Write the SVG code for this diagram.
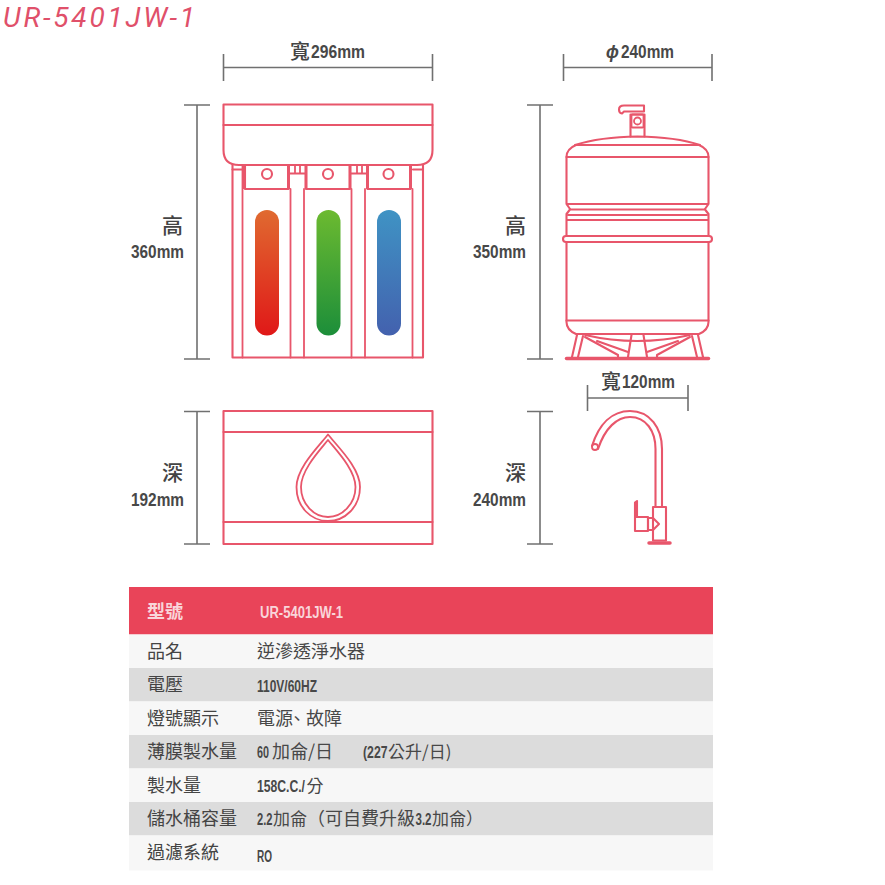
<svg xmlns="http://www.w3.org/2000/svg" width="885" height="885" viewBox="0 0 885 885">
<style>
.dim{stroke:#707070;stroke-width:1.6;fill:none}
.o{stroke:#e8566b;stroke-width:2.1;fill:none;stroke-linejoin:round;stroke-linecap:round}
.t{stroke:#e8566b;stroke-width:1.8;fill:none;stroke-linejoin:round;stroke-linecap:round}
.l{font-family:"Liberation Sans",sans-serif;font-weight:700;font-size:19px;fill:#484848}
.c{font-family:"Noto Sans CJK TC",sans-serif;font-weight:500;font-size:21px;fill:#444}
.n{font-family:"Liberation Sans",sans-serif;font-weight:700;font-size:16px;fill:#484848}
.k{font-family:"Noto Sans CJK TC",sans-serif;font-weight:400;font-size:18px;fill:#444}
.v{font-family:"Noto Sans CJK TC",sans-serif;font-size:18px;fill:#484848}
.s{font-size:17px}
.h{fill:#f9d5da;font-weight:700}
.b{font-family:"Liberation Sans",sans-serif;font-weight:700;font-size:16px}
.q{font-family:"Noto Sans CJK TC",sans-serif;font-weight:400}
</style>
<defs>
<linearGradient id="gr" x1="0" y1="0" x2="0" y2="1"><stop offset="0" stop-color="#e06a30"/><stop offset="1" stop-color="#e01818"/></linearGradient>
<linearGradient id="gg" x1="0" y1="0" x2="0" y2="1"><stop offset="0" stop-color="#6cba30"/><stop offset="1" stop-color="#1c8e3a"/></linearGradient>
<linearGradient id="gb" x1="0" y1="0" x2="0" y2="1"><stop offset="0" stop-color="#3f93c4"/><stop offset="1" stop-color="#4361ae"/></linearGradient>
</defs>
<rect width="885" height="885" fill="#fff"/>
<text x="3" y="27" font-family="Roboto,sans-serif" font-style="italic" font-size="28" fill="#e0506a" textLength="192" lengthAdjust="spacing">UR-5401JW-1</text>

<g id="dimensions">
<path class="dim" d="M223.500 54V81M432.500 54V81M223.500 67.500H432.500"/>
<path class="dim" d="M563.500 54V81M712 54V81M563.500 67.500H712"/>
<path class="dim" d="M184 105H210M197 105V359M184 359H210"/>
<path class="dim" d="M527 105H553M540 105V359M527 359H553"/>
<path class="dim" d="M184 411.500H210M197 411.500V544M184 544H210"/>
<path class="dim" d="M527 411.500H553M540 411.500V544M527 544H553"/>
<path class="dim" d="M587.500 385V411M688 385V411M587.500 398H688"/>
</g>
<g id="dim-labels">
<text class="c" x="290" y="59" style="font-size:20px">寬</text>
<text class="l" x="311" y="58" textLength="54" lengthAdjust="spacingAndGlyphs">296mm</text>
<text class="l" x="606" y="58" font-style="italic" textLength="13" lengthAdjust="spacingAndGlyphs">ɸ</text>
<text class="l" x="621" y="58" textLength="53" lengthAdjust="spacingAndGlyphs">240mm</text>
<text class="c" x="601" y="389" style="font-size:20px">寬</text>
<text class="l" x="622" y="388" textLength="53" lengthAdjust="spacingAndGlyphs">120mm</text>
<text class="c" x="162" y="233">高</text>
<text class="l" x="131" y="258" textLength="53" lengthAdjust="spacingAndGlyphs">360mm</text>
<text class="c" x="505" y="233">高</text>
<text class="l" x="473" y="258" textLength="53" lengthAdjust="spacingAndGlyphs">350mm</text>
<text class="c" x="162" y="480">深</text>
<text class="l" x="131" y="506" textLength="53" lengthAdjust="spacingAndGlyphs">192mm</text>
<text class="c" x="505" y="480">深</text>
<text class="l" x="473" y="506" textLength="53" lengthAdjust="spacingAndGlyphs">240mm</text>
</g>

<g id="filter-front">
<path class="o" d="M232.500 165V357.500H423V165"/>
<path class="t" d="M242.500 165V357.500M290.500 189V357.500M304 189V357.500M351.500 189V357.500M365 189V357.500M412.500 189V357.500"/>
<path class="o" d="M245 165V189H288.500V165M306 165V189H350V165M367.500 165V189H410.500V165M288.500 173.500H306M350 173.500H367.500M232.500 169.500H242.500M413 169.500H423"/>
<path class="t" d="M295 166V173M300 166V173M357 166V173M362 166V173"/>
<path d="M244.500 165V189M288.500 165V189M306 165V189M350 165V189M367.500 165V189M410.500 165V189" stroke="#e8566b" stroke-width="3"/>
<circle class="o" cx="267" cy="174" r="5"/><circle class="o" cx="328" cy="174" r="5"/><circle class="o" cx="388.500" cy="174" r="5"/>
<path class="o" d="M223.500 104.500H432.500V150Q432.500 165 417 165H239Q223.500 165 223.500 150Z"/>
<path class="o" d="M223.500 125H432.500"/>
<rect x="255" y="210" width="24" height="125.500" rx="12" fill="url(#gr)"/>
<rect x="316.500" y="210" width="24" height="125.500" rx="12" fill="url(#gg)"/>
<rect x="377" y="210" width="24" height="125.500" rx="12" fill="url(#gb)"/>
</g>

<g id="filter-side">
<rect class="o" x="223.500" y="411" width="209" height="133"/>
<path class="o" d="M223.500 432H432.500M223.500 522H432.500"/>
<path class="t" d="M328 434.500C318 447 296.500 468 296.500 487C296.500 507 311 521 328 521C345 521 360 507 360 487C360 468 338 447 328 434.500Z"/>
<path class="t" d="M328 440C320 450 301 470 301 487C301 504 314 517 328 517C342 517 355.500 504 355.500 487C355.500 470 336 450 328 440Z"/>
</g>

<g id="tank">
<path class="o" d="M630.500 136.500V114.500H644.500V136.500"/>
<path class="o" d="M644 105.500H624Q619 105.500 619 109.500Q619 113 622 113.500L624 111.500H644Z"/>
<rect class="t" x="631.500" y="114.500" width="12" height="13" rx="1"/>
<circle class="t" cx="637.500" cy="121" r="3.500"/>
<path class="o" d="M575 145Q600 137 637.500 136.500Q676 137 700 145"/>
<path class="o" d="M576 145H699"/>
<path class="o" d="M566.500 157Q566.500 149 576 145M708.500 157Q708.500 149 699 145"/>
<path class="o" d="M566.500 157H708.500M566.500 157V204L570 209M708.500 157V204L705 209"/>
<path class="o" d="M567 204H708M570 209.500H705M570 209.500L566.500 214V219M705 209.500L708.500 214V219"/>
<path class="o" d="M568 215H707M567 220H708"/>
<path class="o" d="M566.500 220V236M708.500 220V236"/>
<rect class="o" x="563" y="236" width="149" height="6" rx="3"/>
<path class="o" d="M566.500 242V322Q566.500 330 576 334H699Q708.500 330 708.500 322V242"/>
<path class="o" d="M566.500 320.500H708.500"/>
<path class="t" d="M585 335Q637 347 690 335"/>
<path class="o" d="M577 335L572 357M583 336L578 357M698 335L703 357M692 336L697 357M585 337L618 355M597 341L628 352M690 337L657 355M678 341L647 352M631.500 335L628 357M643.500 335L647 357M618 355L618 357M657 355L657 357"/>
<path d="M566.500 358.500H708.500" stroke="#e8566b" stroke-width="3.500" stroke-linecap="round"/>
</g>

<g id="faucet">
<path class="o" d="M592 446C599 424 612 411 630 411C650 411 662 428 662 449V507"/>
<path class="o" d="M598 449C605 428 617 417 630 417C646 417 655.500 431 655.500 449V507"/>
<circle class="t" cx="595" cy="447" r="3"/>
<path class="o" d="M653 507H666V540.500H653Z"/>
<path class="o" d="M653 518H648V530H653M653 518L659 524L653 530"/>
<path class="o" d="M635 517H648V531H635ZM635 517V502.500L637 501V517"/>
<path d="M649 543H670" stroke="#e8566b" stroke-width="3.500" stroke-linecap="round"/>
</g>

<g id="spec-table">
<rect x="129" y="587" width="584" height="47.500" fill="#e94459"/>
<rect x="129" y="634.500" width="584" height="33.500" fill="#f7f7f7"/>
<rect x="129" y="668" width="584" height="33.500" fill="#dcdcdc"/>
<rect x="129" y="701.500" width="584" height="33.500" fill="#f7f7f7"/>
<rect x="129" y="735" width="584" height="33.500" fill="#dcdcdc"/>
<rect x="129" y="768.500" width="584" height="33.500" fill="#f7f7f7"/>
<rect x="129" y="802" width="584" height="33.500" fill="#dcdcdc"/>
<rect x="129" y="835.500" width="584" height="35" fill="#f7f7f7"/>
<text class="k h" x="147" y="618">型號</text>
<text class="n h" x="260" y="618" textLength="83" lengthAdjust="spacingAndGlyphs">UR-5401JW-1</text>
<text class="k" x="147" y="658">品名</text>
<text class="v" x="257" y="658">逆滲透淨水器</text>
<text class="k" x="147" y="691">電壓</text>
<text class="n" x="257" y="692" textLength="60" lengthAdjust="spacingAndGlyphs">110V/60HZ</text>
<text class="k" x="147" y="725">燈號顯示</text>
<text class="v" x="257" y="725">電源<tspan x="288">、</tspan><tspan x="306">故障</tspan></text>
<text class="k" x="147" y="758">薄膜製水量</text>
<text class="n" x="257" y="758" textLength="12" lengthAdjust="spacingAndGlyphs">60</text>
<text class="v" x="272" y="758">加侖/日</text>
<text class="n" x="363" y="758" textLength="24.500" lengthAdjust="spacingAndGlyphs">(227</text>
<text class="v s" x="388" y="758">公升/日)</text>
<text class="k" x="147" y="792">製水量</text>
<text class="v s" x="257" y="792"><tspan class="b" textLength="48" lengthAdjust="spacingAndGlyphs">158C.C./</tspan><tspan x="306.500">分</tspan></text>
<text class="k" x="147" y="825">儲水桶容量</text>
<text class="v s" x="257" y="825"><tspan class="b" textLength="15.500" lengthAdjust="spacingAndGlyphs">2.2</tspan><tspan x="273">加侖</tspan><tspan x="307" style="font-size:18px">（可自費升級</tspan><tspan x="415.500" class="b" textLength="16" lengthAdjust="spacingAndGlyphs">3.2</tspan><tspan x="432">加侖）</tspan></text>
<text class="k" x="147" y="859">過濾系統</text>
<text class="n" x="257" y="862" textLength="15" lengthAdjust="spacingAndGlyphs">RO</text>
</g>
</svg>
